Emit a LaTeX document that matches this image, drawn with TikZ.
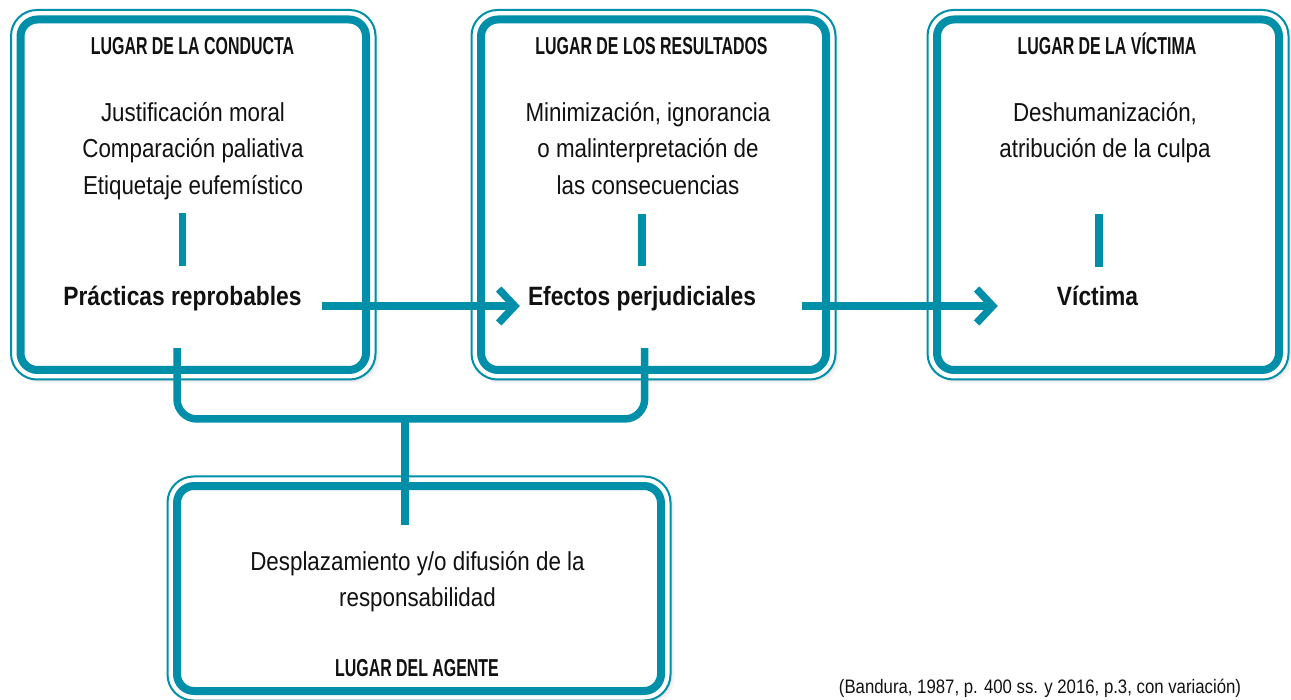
\documentclass[tikz,border=0pt]{standalone}
\usepackage{fontspec}
\setmainfont{Liberation Sans}[FakeStretch=0.86]
\newfontfamily\titulofont{Liberation Sans}[FakeStretch=0.65]
\usepackage{tikz}
\usetikzlibrary{calc,arrows.meta,shadows}
\definecolor{petroleo}{HTML}{008FA9}
\definecolor{texto}{HTML}{111111}
\tikzset{
  marco/.style={draw=petroleo, line width=8pt, rounded corners=17pt, fill=white, inner sep=0pt},
  borde/.style={draw=petroleo, line width=2pt, rounded corners=26pt, fill=white,
    drop shadow={shadow xshift=4pt, shadow yshift=-4pt, opacity=0.08},
    drop shadow={shadow xshift=2pt, shadow yshift=-2pt, opacity=0.12}},
  titulo/.style={text=texto, font=\titulofont\bfseries\fontsize{24.5}{28}\selectfont, anchor=base, inner sep=0pt},
  desc/.style={text=texto, font=\fontsize{26}{36.7}\selectfont, align=center, anchor=north, inner sep=0pt},
  termino/.style={text=texto, font=\bfseries\fontsize{26.5}{30}\selectfont, anchor=base, inner sep=0pt,
    text height=20pt, text depth=6pt},
  barra/.style={draw=petroleo, line width=7.5pt},
  conector/.style={draw=petroleo, line width=7.5pt, rounded corners=20pt},
  flecha/.style={draw=petroleo, line width=7.5pt, -{Straight Barb[length=16pt, width=34pt]}},
  fuente/.style={text=texto, font=\fontsize{19.5}{24}\selectfont, anchor=base, inner sep=0pt},
}

\begin{document}
\begin{tikzpicture}[x=1pt, y=-1pt]
  \useasboundingbox (0,0) rectangle (1291,700);
  % los cuatro lugares
  \foreach \n/\cx/\cy/\w/\h in {lconducta/193.25/194.75/345.5/350.5, lresultados/653.5/194.75/345/350.5,
      lvictima/1108/194.75/342/350.5, lagente/419/588.5/484/205}{
    \draw[borde] (\cx-\w/2-9.5, \cy-\h/2-9.5) rectangle (\cx+\w/2+9.5, \cy+\h/2+9.5);
    \node[marco, minimum width=\w*1pt, minimum height=\h*1pt] (\n) at (\cx,\cy) {};
  }
  \node[titulo] (tconducta) at (192.5,55) {LUGAR DE LA CONDUCTA};
  \node[titulo] (tresultados) at (651.5,54.5) {LUGAR DE LOS RESULTADOS};
  \node[titulo] (tvictima) at (1107,55) {LUGAR DE LA VÍCTIMA};
  \node[titulo] (tagente) at (417,676.7) {LUGAR DEL AGENTE};
  \node[desc] (dconducta) at (193,101.8) {Justificación moral\\Comparación paliativa\\Etiquetaje eufemístico};
  \node[desc] (dresultados) at (648,101.8) {Minimización, ignorancia\\o malinterpretación de\\las consecuencias};
  \node[desc] (dvictima) at (1105,101.8) {Deshumanización,\\atribución de la culpa};
  \node[desc] (dagente) at (417.5,550.8) {Desplazamiento y/o difusión de la\\responsabilidad};
  \node[termino] (practicas) at (182.5,306) {Prácticas reprobables};
  \node[termino] (efectos) at (642,306) {Efectos perjudiciales};
  \node[termino] (victima) at (1097.5,306) {Víctima};
  % barras
  \draw[barra, shorten <=13pt, shorten >=20pt] (dconducta.south -| practicas.north) -- (practicas.north);
  \draw[barra, shorten <=18.6pt, shorten >=20pt] (dresultados.south -| efectos.north) -- (efectos.north);
  \draw[barra, shorten <=50.8pt, shorten >=19pt] ([xshift=1.5pt]dvictima.south -| victima.north) -- ([xshift=1.5pt]victima.north);
  % flechas
  \draw[flecha, shorten <=20pt, shorten >=8pt] (practicas.base east) -- (efectos.base west);
  \draw[flecha, shorten <=46pt, shorten >=59pt] (efectos.base east) -- (victima.base west);
  % agente
  \coordinate (union) at (405,419);
  \draw[conector, shorten <=36pt, shorten >=36pt] ([xshift=-5.5pt]practicas.south) |- (union) -| ([xshift=2.7pt]efectos.south);
  \draw[conector, shorten >=25.8pt] (union) -- (union |- dagente.north);
  \node[fuente] (fuente) at (1040,693.5) {(Bandura, 1987, p. 400 ss. y 2016, p.3, con variación)};
\end{tikzpicture}
\end{document}
